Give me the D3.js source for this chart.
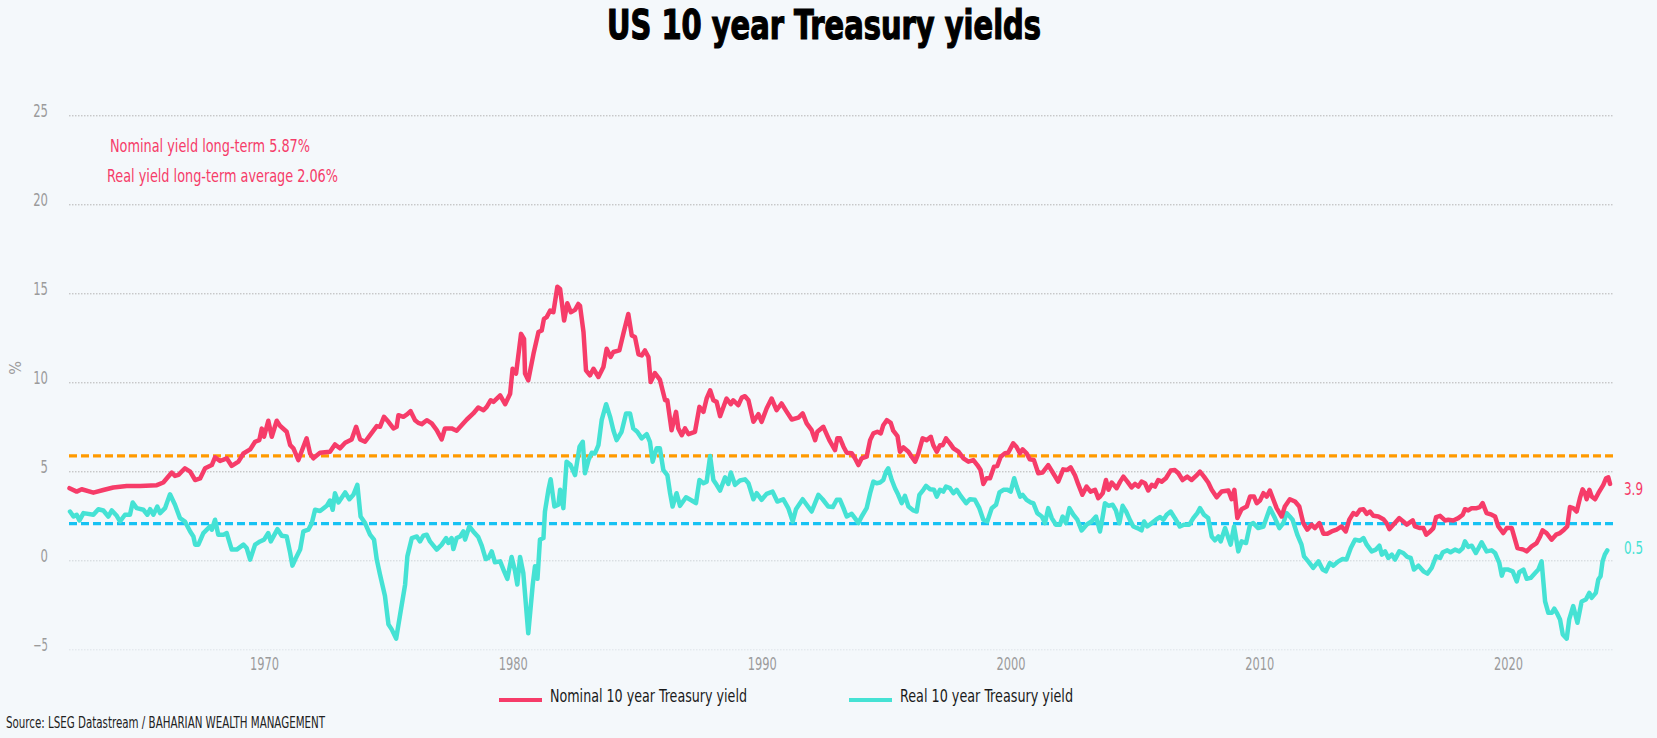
<!DOCTYPE html>
<html>
<head>
<meta charset="utf-8">
<script src="https://cdn.jsdelivr.net/npm/d3@7"></script>
<style>
  body { margin: 0; background: #f4f8fb; overflow: hidden; }
  svg text { font-family: "Liberation Sans Narrow", "Arial Narrow", "DejaVu Sans Condensed", sans-serif; }
</style>
</head>
<body>
<div id="chartContainer"></div>
<script>
// values: [decimal year, yield %]
const nominalSeries = [
  [1962.18,4.05],[1962.47,3.86],[1962.67,3.99],[1963.14,3.80],[1963.54,3.95],[1963.94,4.09],[1964.48,4.18],[1965.02,4.18],
  [1965.69,4.22],[1965.95,4.37],[1966.29,4.93],[1966.42,4.74],[1966.56,4.80],[1966.82,5.17],[1967.03,4.98],[1967.23,4.51],
  [1967.43,4.60],[1967.63,5.17],[1967.90,5.35],[1968.03,5.78],[1968.23,5.58],[1968.50,5.73],[1968.70,5.30],[1968.97,5.54],
  [1969.17,6.00],[1969.44,6.23],[1969.64,6.66],[1969.81,6.75],[1969.91,7.40],[1970.00,6.94],[1970.17,7.84],[1970.31,6.94],
  [1970.51,7.84],[1970.64,7.56],[1970.91,7.22],[1971.05,6.47],[1971.18,6.29],[1971.38,5.63],[1971.58,6.38],[1971.71,6.85],
  [1971.85,6.00],[1971.98,5.73],[1972.25,6.04],[1972.65,6.10],[1972.85,6.51],[1973.05,6.29],[1973.26,6.60],[1973.52,6.79],
  [1973.70,7.50],[1973.86,6.79],[1974.06,6.66],[1974.26,7.03],[1974.53,7.54],[1974.66,7.50],[1974.82,8.06],[1975.00,7.78],
  [1975.20,7.41],[1975.33,7.50],[1975.40,8.15],[1975.60,8.06],[1975.76,8.21],[1975.89,8.38],[1976.07,7.87],[1976.20,7.72],
  [1976.34,7.65],[1976.54,7.87],[1976.74,7.69],[1976.94,7.31],[1977.14,6.79],[1977.27,7.41],[1977.54,7.41],[1977.74,7.28],
  [1977.94,7.59],[1978.15,7.91],[1978.41,8.25],[1978.61,8.58],[1978.82,8.43],[1978.95,8.62],[1979.11,8.99],[1979.22,8.90],
  [1979.49,9.27],[1979.69,8.77],[1979.89,9.36],[1979.99,10.76],[1980.13,10.49],[1980.33,12.72],[1980.45,12.44],[1980.49,10.49],
  [1980.62,10.11],[1980.83,11.60],[1981.03,12.82],[1981.16,12.91],[1981.25,13.56],[1981.36,13.66],[1981.50,14.03],[1981.63,13.94],
  [1981.79,15.37],[1981.90,15.24],[1982.06,13.47],[1982.19,14.44],[1982.33,13.94],[1982.50,14.07],[1982.63,14.40],[1982.70,14.30],
  [1982.84,12.82],[1982.94,10.67],[1983.10,10.39],[1983.24,10.76],[1983.44,10.30],[1983.64,10.86],[1983.77,11.88],[1983.93,11.42],
  [1984.04,11.70],[1984.28,11.79],[1984.44,12.72],[1984.64,13.84],[1984.78,12.63],[1984.91,12.54],[1985.05,11.57],[1985.18,11.51],
  [1985.31,11.79],[1985.45,11.42],[1985.54,10.02],[1985.71,10.52],[1985.91,10.15],[1986.12,8.99],[1986.21,8.99],[1986.38,7.31],
  [1986.56,8.34],[1986.65,7.41],[1986.79,7.03],[1986.92,7.41],[1987.06,7.09],[1987.32,7.22],[1987.50,8.62],[1987.66,8.34],
  [1987.79,9.09],[1987.93,9.55],[1988.06,8.99],[1988.19,8.90],[1988.33,8.10],[1988.59,9.09],[1988.76,8.77],[1988.86,8.99],
  [1989.06,8.71],[1989.20,9.14],[1989.33,9.22],[1989.47,8.99],[1989.67,7.78],[1989.87,8.21],[1990.00,7.78],[1990.20,8.53],
  [1990.40,9.09],[1990.60,8.43],[1990.80,8.81],[1991.01,8.34],[1991.21,7.91],[1991.48,8.02],[1991.65,8.25],[1991.81,7.69],
  [1992.01,7.31],[1992.15,6.75],[1992.24,7.22],[1992.48,7.50],[1992.72,6.75],[1992.95,6.19],[1993.04,6.85],[1993.15,6.85],
  [1993.29,6.38],[1993.42,6.04],[1993.62,6.01],[1993.75,5.73],[1993.89,5.35],[1994.02,5.73],[1994.22,5.82],[1994.36,6.75],
  [1994.49,7.13],[1994.65,7.22],[1994.79,7.13],[1994.89,7.59],[1995.03,7.87],[1995.19,7.72],[1995.29,7.28],[1995.46,6.98],
  [1995.56,6.10],[1995.70,6.34],[1995.90,6.10],[1996.03,5.82],[1996.17,5.54],[1996.30,6.01],[1996.47,6.85],[1996.63,6.75],
  [1996.80,6.94],[1996.90,6.47],[1997.04,6.10],[1997.17,6.47],[1997.28,6.47],[1997.41,6.85],[1997.57,6.57],[1997.71,6.29],
  [1997.91,6.10],[1998.11,5.73],[1998.31,5.54],[1998.51,5.63],[1998.67,5.35],[1998.80,5.07],[1998.91,4.29],[1999.04,4.61],
  [1999.18,4.61],[1999.34,5.26],[1999.47,5.30],[1999.61,5.82],[1999.78,6.01],[1999.91,6.04],[2000.11,6.57],[2000.24,6.38],
  [2000.38,6.01],[2000.49,6.23],[2000.65,6.01],[2000.78,5.67],[2000.94,5.63],[2001.12,4.89],[2001.29,4.93],[2001.52,5.35],
  [2001.72,4.89],[2001.92,4.42],[2002.12,5.11],[2002.28,5.07],[2002.42,5.22],[2002.59,4.79],[2002.72,4.29],[2002.89,3.68],
  [2003.06,4.14],[2003.22,3.86],[2003.40,3.96],[2003.53,3.49],[2003.60,3.58],[2003.71,3.77],[2003.84,4.51],[2003.94,3.96],
  [2004.07,4.37],[2004.27,4.05],[2004.41,4.42],[2004.54,4.70],[2004.70,4.42],[2004.87,4.10],[2005.01,4.29],[2005.14,4.14],
  [2005.27,4.42],[2005.41,4.33],[2005.54,3.92],[2005.68,4.24],[2005.81,4.14],[2005.94,4.51],[2006.08,4.42],[2006.25,4.61],
  [2006.44,5.04],[2006.61,5.07],[2006.75,4.89],[2006.92,4.51],[2007.11,4.70],[2007.28,4.51],[2007.46,4.74],[2007.62,4.98],
  [2007.78,4.70],[2007.95,4.37],[2008.09,3.96],[2008.29,3.54],[2008.49,3.86],[2008.76,3.92],[2008.89,3.43],[2009.00,3.96],
  [2009.12,2.37],[2009.29,2.87],[2009.50,3.02],[2009.63,3.58],[2009.79,3.58],[2009.90,3.21],[2010.03,3.36],[2010.17,3.77],
  [2010.30,3.58],[2010.43,3.92],[2010.57,3.40],[2010.70,2.93],[2010.90,2.46],[2011.03,3.02],[2011.23,3.43],[2011.44,3.30],
  [2011.61,3.02],[2011.77,2.09],[2011.93,1.72],[2012.11,2.00],[2012.24,1.81],[2012.42,2.09],[2012.58,1.49],[2012.74,1.49],
  [2012.91,1.62],[2013.11,1.72],[2013.31,1.90],[2013.48,1.62],[2013.62,2.28],[2013.78,2.65],[2013.91,2.56],[2014.05,2.84],
  [2014.19,2.87],[2014.32,2.61],[2014.45,2.74],[2014.59,2.50],[2014.79,2.46],[2014.99,2.31],[2015.12,2.09],[2015.23,1.75],
  [2015.39,2.00],[2015.63,2.37],[2015.79,2.18],[2015.93,2.00],[2016.17,2.24],[2016.26,1.90],[2016.46,1.81],[2016.60,1.81],
  [2016.71,1.44],[2016.87,1.62],[2017.00,1.81],[2017.11,2.43],[2017.27,2.50],[2017.47,2.24],[2017.60,2.28],[2017.80,2.24],
  [2018.00,2.37],[2018.18,2.56],[2018.27,2.87],[2018.40,2.80],[2018.54,2.93],[2018.74,2.93],[2018.87,2.99],[2018.98,3.21],
  [2019.14,2.65],[2019.34,2.56],[2019.48,2.46],[2019.61,1.90],[2019.81,1.53],[2019.95,1.81],[2020.15,1.81],[2020.38,0.69],
  [2020.62,0.60],[2020.75,0.50],[2020.95,0.78],[2021.15,0.97],[2021.29,1.34],[2021.39,1.68],[2021.55,1.53],[2021.75,1.16],
  [2021.93,1.44],[2022.09,1.53],[2022.25,1.72],[2022.38,1.90],[2022.49,2.99],[2022.62,2.93],[2022.76,2.74],[2022.89,3.49],
  [2023.00,3.99],[2023.09,3.77],[2023.16,3.43],[2023.27,3.96],[2023.36,3.58],[2023.50,3.43],[2023.63,3.77],[2023.83,4.24],
  [2023.94,4.61],[2024.03,4.66],[2024.10,4.29]
];

const realSeries = [
  [1962.20,2.74],[1962.34,2.46],[1962.47,2.56],[1962.58,2.24],[1962.74,2.65],[1963.14,2.56],[1963.34,2.87],[1963.54,2.80],
  [1963.74,2.46],[1963.88,2.80],[1964.08,2.50],[1964.21,2.18],[1964.41,2.56],[1964.61,2.56],[1964.72,3.25],[1964.88,2.93],
  [1965.15,2.84],[1965.31,2.56],[1965.42,2.87],[1965.55,2.56],[1965.71,3.02],[1965.82,2.65],[1966.02,2.93],[1966.09,3.21],
  [1966.22,3.71],[1966.42,3.12],[1966.62,2.37],[1966.82,2.18],[1967.03,1.62],[1967.16,1.34],[1967.23,0.88],[1967.36,0.88],
  [1967.56,1.53],[1967.83,1.90],[1967.90,1.72],[1968.03,2.28],[1968.16,1.44],[1968.37,1.44],[1968.50,1.53],[1968.70,0.60],
  [1968.90,0.60],[1969.17,0.88],[1969.30,0.69],[1969.44,0.04],[1969.64,0.88],[1969.84,1.06],[1970.00,1.16],[1970.17,1.53],
  [1970.27,1.06],[1970.54,1.75],[1970.71,1.38],[1970.91,1.34],[1971.05,0.41],[1971.14,-0.30],[1971.25,0.04],[1971.45,0.60],
  [1971.58,1.62],[1971.78,1.72],[1971.92,2.09],[1972.05,2.84],[1972.25,2.77],[1972.52,3.06],[1972.65,3.36],[1972.76,2.84],
  [1972.85,3.77],[1972.99,3.25],[1973.26,3.81],[1973.43,3.43],[1973.59,3.68],[1973.75,4.24],[1973.88,2.46],[1974.06,2.09],
  [1974.26,1.44],[1974.42,1.16],[1974.53,0.04],[1974.66,-0.80],[1974.86,-2.01],[1975.00,-3.60],[1975.13,-3.88],[1975.31,-4.40],
  [1975.47,-3.04],[1975.67,-1.36],[1975.76,0.22],[1975.94,1.25],[1976.14,1.34],[1976.27,1.06],[1976.40,1.38],[1976.54,1.44],
  [1976.67,1.06],[1976.94,0.60],[1977.14,0.88],[1977.32,1.25],[1977.41,0.97],[1977.54,1.25],[1977.61,0.63],[1977.74,1.25],
  [1977.88,1.34],[1978.01,1.62],[1978.08,1.16],[1978.25,1.90],[1978.41,1.62],[1978.61,1.31],[1978.75,0.82],[1978.91,0.07],
  [1979.02,0.13],[1979.15,0.50],[1979.28,-0.11],[1979.49,-0.06],[1979.65,-0.62],[1979.78,-1.04],[1979.95,0.19],[1980.09,-0.62],
  [1980.18,-1.36],[1980.29,0.19],[1980.42,-0.71],[1980.62,-4.10],[1980.80,-1.36],[1980.89,-0.34],[1980.99,-1.04],[1981.09,1.16],
  [1981.23,1.25],[1981.29,2.74],[1981.43,3.96],[1981.52,4.55],[1981.67,3.02],[1981.83,3.12],[1981.90,3.96],[1982.03,2.93],
  [1982.16,5.54],[1982.32,5.35],[1982.50,4.79],[1982.68,6.38],[1982.81,6.66],[1982.90,4.89],[1983.04,5.63],[1983.17,6.04],
  [1983.30,6.00],[1983.44,6.47],[1983.57,7.87],[1983.75,8.77],[1983.91,8.06],[1984.04,7.31],[1984.17,6.75],[1984.37,7.22],
  [1984.55,8.25],[1984.71,8.25],[1984.84,7.41],[1985.00,7.22],[1985.18,6.85],[1985.38,7.09],[1985.51,6.66],[1985.62,5.54],
  [1985.78,6.29],[1985.91,6.29],[1986.05,5.07],[1986.21,4.79],[1986.32,3.77],[1986.42,3.02],[1986.58,3.77],[1986.72,3.06],
  [1986.96,3.54],[1987.19,3.36],[1987.36,3.21],[1987.50,4.51],[1987.66,4.33],[1987.79,4.42],[1987.93,5.86],[1988.06,4.51],
  [1988.19,4.24],[1988.33,3.92],[1988.53,4.66],[1988.66,4.29],[1988.76,4.93],[1988.93,4.24],[1989.13,4.48],[1989.33,4.55],
  [1989.47,4.33],[1989.67,3.43],[1989.80,3.77],[1990.00,3.40],[1990.20,3.73],[1990.44,3.86],[1990.63,3.30],[1990.87,3.43],
  [1991.07,2.93],[1991.25,2.18],[1991.38,2.87],[1991.65,3.43],[1991.81,3.12],[1992.01,2.74],[1992.28,3.68],[1992.45,3.43],
  [1992.68,3.02],[1992.86,2.99],[1993.02,3.40],[1993.15,3.40],[1993.29,2.93],[1993.42,2.46],[1993.62,2.61],[1993.75,2.37],
  [1993.89,2.09],[1994.02,2.46],[1994.22,2.93],[1994.36,3.77],[1994.49,4.42],[1994.62,4.33],[1994.76,4.37],[1994.89,4.51],
  [1995.00,4.98],[1995.09,5.17],[1995.23,4.51],[1995.36,4.05],[1995.49,3.68],[1995.63,3.21],[1995.76,3.62],[1995.90,3.02],
  [1996.10,2.80],[1996.23,2.74],[1996.34,3.68],[1996.50,3.96],[1996.61,4.18],[1996.77,3.99],[1996.93,3.96],[1997.04,3.58],
  [1997.17,3.96],[1997.30,3.86],[1997.41,4.14],[1997.57,4.05],[1997.71,3.77],[1997.84,3.96],[1998.00,3.62],[1998.22,3.21],
  [1998.37,3.43],[1998.57,3.40],[1998.75,2.93],[1998.91,2.28],[1999.07,2.18],[1999.25,2.93],[1999.42,3.12],[1999.56,3.81],
  [1999.72,3.96],[1999.88,3.96],[2000.01,3.86],[2000.15,4.61],[2000.25,4.14],[2000.39,3.58],[2000.49,3.68],[2000.65,3.40],
  [2000.81,3.25],[2000.92,3.21],[2001.08,2.65],[2001.26,2.46],[2001.39,2.09],[2001.52,2.93],[2001.66,2.37],[2001.83,2.00],
  [2001.99,2.00],[2002.10,2.46],[2002.23,2.09],[2002.37,2.93],[2002.53,2.56],[2002.69,2.28],[2002.86,1.68],[2003.06,2.00],
  [2003.26,2.18],[2003.44,2.46],[2003.60,1.62],[2003.71,2.46],[2003.80,3.21],[2003.94,3.06],[2004.11,3.12],[2004.24,2.80],
  [2004.38,2.09],[2004.51,3.06],[2004.65,2.74],[2004.81,2.24],[2004.94,1.90],[2005.10,1.81],[2005.27,1.68],[2005.37,2.18],
  [2005.50,1.90],[2005.68,2.09],[2005.85,2.28],[2006.01,2.43],[2006.15,2.28],[2006.28,2.56],[2006.44,2.74],[2006.61,2.37],
  [2006.81,1.90],[2006.97,2.00],[2007.19,2.00],[2007.35,2.37],[2007.51,2.65],[2007.62,2.93],[2007.78,2.56],[2007.95,2.37],
  [2008.09,1.34],[2008.22,1.12],[2008.36,1.34],[2008.45,1.06],[2008.63,1.81],[2008.76,1.25],[2008.85,0.88],[2008.99,1.90],
  [2009.16,0.50],[2009.29,1.06],[2009.47,0.97],[2009.63,2.00],[2009.76,2.09],[2009.96,1.81],[2010.17,1.90],[2010.43,2.93],
  [2010.63,2.37],[2010.81,1.81],[2010.97,2.09],[2011.10,2.65],[2011.23,2.46],[2011.34,2.28],[2011.53,1.44],[2011.70,0.88],
  [2011.80,0.22],[2011.97,-0.06],[2012.17,-0.43],[2012.38,-0.06],[2012.55,-0.52],[2012.68,-0.62],[2012.84,-0.15],[2012.98,-0.30],
  [2013.18,-0.06],[2013.35,0.07],[2013.51,0.04],[2013.68,0.69],[2013.85,1.16],[2014.05,1.10],[2014.19,1.25],[2014.32,0.88],
  [2014.52,0.50],[2014.69,0.60],[2014.83,0.82],[2014.93,0.32],[2015.06,0.50],[2015.19,0.13],[2015.33,0.32],[2015.46,0.04],
  [2015.63,0.50],[2015.79,0.41],[2015.95,0.19],[2016.09,0.13],[2016.22,-0.52],[2016.40,-0.30],[2016.60,-0.62],[2016.76,-0.75],
  [2016.93,-0.43],[2017.11,0.22],[2017.27,0.13],[2017.38,0.45],[2017.56,0.56],[2017.69,0.45],[2017.87,0.60],[2018.04,0.50],
  [2018.18,0.69],[2018.27,1.06],[2018.40,0.75],[2018.54,0.82],[2018.71,0.41],[2018.94,1.01],[2019.14,0.50],[2019.34,0.56],
  [2019.48,0.41],[2019.65,-0.15],[2019.75,-0.86],[2019.84,-0.52],[2020.01,-0.52],[2020.19,-0.62],[2020.35,-1.18],[2020.45,-0.67],
  [2020.62,-0.52],[2020.75,-1.04],[2020.91,-0.99],[2021.09,-0.71],[2021.22,-0.52],[2021.35,-0.06],[2021.49,-2.31],[2021.62,-2.95],
  [2021.76,-2.95],[2021.86,-2.72],[2021.96,-2.95],[2022.09,-3.32],[2022.20,-4.16],[2022.36,-4.40],[2022.46,-3.32],[2022.62,-2.57],
  [2022.79,-3.51],[2022.96,-2.31],[2023.13,-2.20],[2023.27,-1.83],[2023.36,-2.11],[2023.53,-1.83],[2023.63,-1.08],[2023.72,-0.90],
  [2023.80,-0.06],[2023.89,0.32],[2023.99,0.56]
];

const yTicks = [-5, 0, 5, 10, 15, 20, 25];
const xTicks = [1970, 1980, 1990, 2000, 2010, 2020];
const nominalAverage = 5.87;
const realAverage = 2.06;
const lastLabels = ["3.9", "0.5"];

const pink = "#f63c69";
const teal = "#45e2d4";

const svg = d3.select("#chartContainer")
    .append("svg")
    .attr("width", 1657)
    .attr("height", 738);

svg.append("rect")
    .attr("width", 1657)
    .attr("height", 738)
    .attr("fill", "#f4f8fb");

const plotLeft = 69, plotRight = 1614;

const x = d3.scaleLinear()
    .domain([1962.16, 2024.26])
    .range([plotLeft, plotRight]);

const y = d3.scaleLinear()
    .domain([-5, 25])
    .range([649.3, 115.3]);

// Gridlines + y labels
const yAxis = svg.append("g")
    .attr("transform", "translate(" + plotLeft + ",0)")
    .call(d3.axisLeft(y)
        .tickValues(yTicks)
        .tickSize(-(plotRight - plotLeft))
        .tickPadding(21));

yAxis.select(".domain").remove();
yAxis.selectAll(".tick line")
    .attr("stroke", function(d) { return d === 0 ? "#cdd3d8" : (d === -5 ? "#dde3e8" : "#b4b4b4"); })
    .attr("stroke-dasharray", "1.5,1.5");
yAxis.selectAll(".tick text")
    .attr("fill", "#9b9b9b")
    .attr("dy", "0.05em")
    .attr("textLength", function(d) { return String(d).length * 7.4; })
    .attr("lengthAdjust", "spacingAndGlyphs")
    .style("font-size", "17px");

// X-Achse
const xAxis = svg.append("g")
    .attr("transform", "translate(0," + y(-5) + ")")
    .call(d3.axisBottom(x)
        .tickValues(xTicks)
        .tickFormat(d3.format("d"))
        .tickSize(0)
        .tickPadding(8));

xAxis.select(".domain").remove();
xAxis.selectAll(".tick text")
    .attr("fill", "#9b9b9b")
    .attr("textLength", 29)
    .attr("lengthAdjust", "spacingAndGlyphs")
    .style("font-size", "18px");

// long-term averages
svg.selectAll(".avg")
    .data([{ v: nominalAverage, c: "#ff9a00" }, { v: realAverage, c: "#16c2f3" }])
    .enter().append("line")
    .attr("class", "avg")
    .attr("x1", plotLeft)
    .attr("x2", plotRight)
    .attr("y1", function(d) { return y(d.v); })
    .attr("y2", function(d) { return y(d.v); })
    .attr("stroke", function(d) { return d.c; })
    .attr("stroke-width", 3.2)
    .attr("stroke-dasharray", "8,4");

// series
const line = d3.line()
    .x(function(d) { return x(d[0]); })
    .y(function(d) { return y(d[1]); });

svg.append("path")
    .datum(realSeries)
    .attr("d", line)
    .attr("fill", "none")
    .attr("stroke", teal)
    .attr("stroke-width", 4.5)
    .attr("stroke-linejoin", "round")
    .attr("stroke-linecap", "round");

svg.append("path")
    .datum(nominalSeries)
    .attr("d", line)
    .attr("fill", "none")
    .attr("stroke", pink)
    .attr("stroke-width", 4.5)
    .attr("stroke-linejoin", "round")
    .attr("stroke-linecap", "round");

// last value labels
svg.selectAll(".last")
    .data(lastLabels)
    .enter().append("text")
    .attr("class", "last")
    .attr("x", 1624)
    .attr("y", function(d, i) { return i === 0 ? 494.5 : 553.5; })
    .attr("textLength", 19)
    .attr("lengthAdjust", "spacingAndGlyphs")
    .attr("fill", function(d, i) { return i === 0 ? pink : teal; })
    .style("font-size", "18px")
    .text(function(d) { return d; });

// title
svg.append("text")
    .attr("x", 824)
    .attr("y", 39)
    .attr("text-anchor", "middle")
    .attr("textLength", 434)
    .attr("lengthAdjust", "spacingAndGlyphs")
    .attr("fill", "#000")
    .attr("stroke", "#000")
    .attr("stroke-width", 1.2)
    .style("font-size", "40px")
    .style("font-weight", "bold")
    .text("US 10 year Treasury yields");

// annotations
svg.append("text")
    .attr("x", 110)
    .attr("y", 151.5)
    .attr("textLength", 200)
    .attr("lengthAdjust", "spacingAndGlyphs")
    .attr("fill", pink)
    .style("font-size", "18px")
    .text("Nominal yield long-term " + nominalAverage + "%");

svg.append("text")
    .attr("x", 107)
    .attr("y", 181.5)
    .attr("textLength", 231)
    .attr("lengthAdjust", "spacingAndGlyphs")
    .attr("fill", pink)
    .style("font-size", "18px")
    .text("Real yield long-term average " + realAverage + "%");

// y label
svg.append("text")
    .attr("transform", "translate(15,368) rotate(-90)")
    .attr("text-anchor", "middle")
    .attr("dominant-baseline", "central")
    .attr("fill", "#9b9b9b")
    .style("font-size", "16px")
    .text("%");

// legend
const legend = [
    { name: "Nominal 10 year Treasury yield", color: pink, x: 499, w: 197 },
    { name: "Real 10 year Treasury yield", color: teal, x: 849, w: 173 }
];

const lg = svg.selectAll(".legend")
    .data(legend)
    .enter().append("g")
    .attr("class", "legend")
    .attr("transform", function(d) { return "translate(" + d.x + ",700)"; });

lg.append("line")
    .attr("x1", 0)
    .attr("x2", 43)
    .attr("stroke", function(d) { return d.color; })
    .attr("stroke-width", 4);

lg.append("text")
    .attr("x", 51)
    .attr("y", 1.5)
    .attr("textLength", function(d) { return d.w; })
    .attr("lengthAdjust", "spacingAndGlyphs")
    .attr("fill", "#1a1a1a")
    .style("font-size", "18px")
    .text(function(d) { return d.name; });

// source
svg.append("text")
    .attr("x", 6)
    .attr("y", 728)
    .attr("textLength", 319)
    .attr("lengthAdjust", "spacingAndGlyphs")
    .attr("fill", "#222")
    .style("font-size", "16px")
    .text("Source: LSEG Datastream / BAHARIAN WEALTH MANAGEMENT");
</script>
</body>
</html>
